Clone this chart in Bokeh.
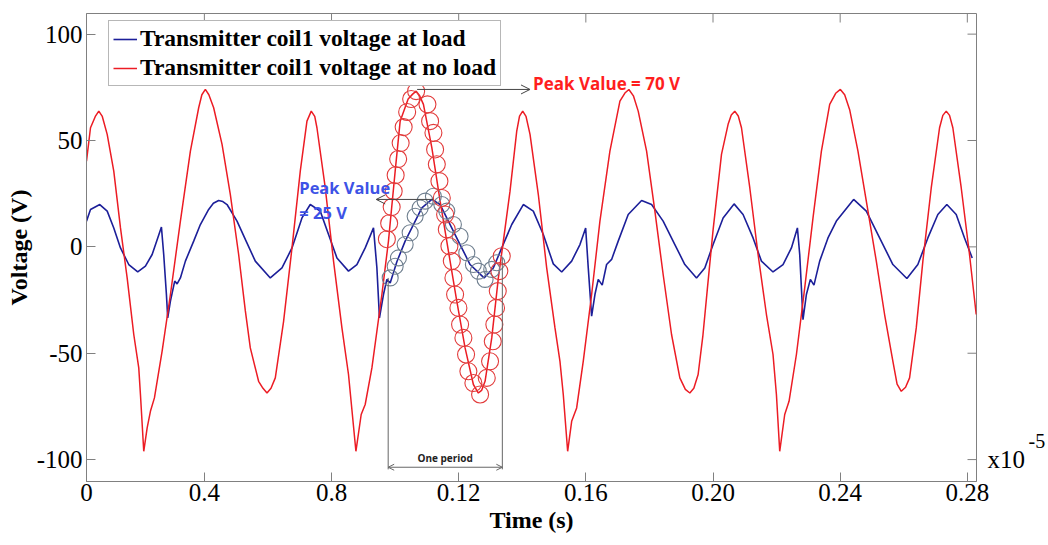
from bokeh.plotting import figure
from bokeh.models import (Range1d, FixedTicker, CustomJSTickFormatter, LinearAxis,
                          Legend, LegendItem, Label, Arrow, OpenHead)
from bokeh.embed import file_html
from bokeh.resources import INLINE

# ---------------- data ----------------
red_t = [0.00292, 0.00418, 0.00569, 0.00679, 0.00789, 0.00943, 0.01150, 0.01361, 0.01571, 0.01779,
         0.01936, 0.01989, 0.02093, 0.02200, 0.02303, 0.02429, 0.02671, 0.02932, 0.03246, 0.03560,
         0.03821, 0.03921, 0.04031, 0.04141, 0.04292, 0.04556, 0.04817, 0.05078, 0.05288, 0.05445,
         0.05706, 0.05844, 0.05970, 0.06096, 0.06231, 0.06492, 0.06756, 0.07017, 0.07227, 0.07362,
         0.07472, 0.07541, 0.07802, 0.08063, 0.08327, 0.08534, 0.08767, 0.08933, 0.09059, 0.09270,
         0.09584, 0.09791, 0.10002, 0.10159, 0.10410, 0.10552, 0.10661, 0.10772, 0.10891, 0.11155,
         0.11416, 0.11677, 0.11940, 0.12201, 0.12462, 0.12619, 0.12720, 0.12830, 0.13040, 0.13248,
         0.13405, 0.13615, 0.13826, 0.13914, 0.14014, 0.14118, 0.14244, 0.14505, 0.14768, 0.15029,
         0.15186, 0.15290, 0.15428, 0.15554, 0.15711, 0.15918, 0.16182, 0.16443, 0.16757, 0.17072,
         0.17229, 0.17354, 0.17496, 0.17647, 0.17911, 0.18172, 0.18432, 0.18696, 0.18957, 0.19130,
         0.19271, 0.19397, 0.19532, 0.19680, 0.19821, 0.20003, 0.20267, 0.20475, 0.20575, 0.20685,
         0.20795, 0.20896, 0.21157, 0.21418, 0.21681, 0.21888, 0.21995, 0.22099, 0.22256, 0.22392,
         0.22624, 0.22885, 0.23146, 0.23410, 0.23671, 0.23859, 0.24007, 0.24142, 0.24299, 0.24560,
         0.24823, 0.25137, 0.25398, 0.25659, 0.25791, 0.25923, 0.26058, 0.26184, 0.26394, 0.26602,
         0.26866, 0.27127, 0.27230, 0.27337, 0.27441, 0.27545, 0.27808, 0.28069, 0.28280]
red_v = [40.3, 56.0, 61.3, 63.8, 61.3, 52.9, 35.6, 8.9, -14.6, -41.2,
         -56.9, -69.4, -96.1, -85.1, -77.3, -71.0, -49.0, -22.4, 12.1, 45.0,
         65.4, 71.5, 74.0, 71.5, 65.4, 48.2, 24.6, -3.6, -30.0, -47.5,
         -63.2, -66.5, -68.7, -66.5, -61.6, -35.0, -0.5, 35.6, 59.1, 63.8,
         61.3, 56.0, 27.8, -6.7, -38.1, -60.0, -96.1, -78.8, -74.1, -56.9,
         -22.4, 2.7, 35.6, 59.1, 69.5, 71.8, 73.2, 71.0, 67.0, 46.6,
         21.5, -2.0, -25.5, -47.5, -64.7, -68.7, -67.5, -63.2, -42.8, -14.6,
         2.7, 26.2, 54.4, 61.5, 63.8, 61.3, 52.9, 24.6, -9.9, -38.1,
         -53.8, -69.4, -96.1, -82.0, -75.7, -53.8, -22.4, 12.1, 45.0, 68.5,
         72.3, 74.0, 71.0, 63.8, 45.0, 16.8, -13.0, -41.2, -61.6, -67.0,
         -68.7, -66.5, -60.0, -42.0, -20.0, 8.0, 43.5, 57.6, 62.0, 63.8,
         61.5, 56.0, 27.8, -3.6, -31.8, -50.6, -69.4, -96.1, -78.8, -72.6,
         -50.6, -19.3, 13.6, 45.0, 67.0, 72.2, 74.0, 71.5, 64.5, 45.0,
         21.5, -6.7, -31.8, -53.8, -64.5, -67.9, -66.0, -61.6, -38.1, -6.7,
         27.8, 56.0, 61.8, 63.8, 61.8, 56.0, 27.8, -3.6, -31.8]

blue_t = [0.00292, 0.00418, 0.00710, 0.00943, 0.01150, 0.01361, 0.01621, 0.01904, 0.02146, 0.02357,
          0.02533, 0.02649, 0.02721, 0.02806, 0.02847, 0.02932, 0.03067, 0.03142, 0.03246, 0.03403,
          0.03664, 0.03874, 0.04135, 0.04283, 0.04449, 0.04581, 0.04713, 0.05027, 0.05288, 0.05602,
          0.06074, 0.06441, 0.06756, 0.07070, 0.07331, 0.07645, 0.07906, 0.08170, 0.08534, 0.08798,
          0.09059, 0.09320, 0.09427, 0.09508, 0.09634, 0.09741, 0.09845, 0.10055, 0.10316, 0.10577,
          0.10841, 0.11155, 0.11416, 0.11730, 0.12044, 0.12358, 0.12798, 0.13090, 0.13354, 0.13669,
          0.14033, 0.14347, 0.14662, 0.14976, 0.15240, 0.15554, 0.15815, 0.15994, 0.16076, 0.16182,
          0.16286, 0.16390, 0.16515, 0.16653, 0.16811, 0.17018, 0.17333, 0.17754, 0.18068, 0.18432,
          0.18800, 0.19114, 0.19482, 0.19742, 0.20003, 0.20318, 0.20663, 0.20946, 0.21260, 0.21524,
          0.21888, 0.22203, 0.22467, 0.22655, 0.22728, 0.22831, 0.22938, 0.23063, 0.23176, 0.23356,
          0.23617, 0.23881, 0.24424, 0.24823, 0.25241, 0.25659, 0.26099, 0.26444, 0.26759, 0.27073,
          0.27356, 0.27651, 0.27912, 0.28154]
blue_v = [12.1, 17.6, 19.9, 16.8, 8.9, -0.5, -8.3, -11.8, -9.1, -3.6,
          4.2, 9.3, -3.6, -22.4, -33.4, -25.5, -16.1, -17.4, -14.6, -6.7,
          2.7, 10.5, 17.6, 20.5, 21.8, 21.3, 19.9, 12.1, 3.5, -6.7,
          -14.6, -9.9, -0.5, 13.6, 19.9, 16.8, 5.8, -5.2, -11.4, -8.3,
          -0.5, 8.9, -9.9, -33.4, -22.4, -15.3, -17.0, -7.0, 2.7, 10.5,
          18.3, 22.3, 19.9, 10.5, 1.1, -8.3, -14.6, -9.9, -0.5, 10.5,
          19.9, 16.8, 5.8, -8.0, -11.8, -6.7, 1.1, 8.9, -9.9, -32.6,
          -22.4, -15.3, -18.0, -8.3, -5.9, 2.7, 15.2, 21.8, 19.9, 12.1,
          1.1, -8.3, -14.6, -9.9, 1.1, 13.6, 20.2, 15.2, 4.2, -6.7,
          -11.8, -8.3, -0.5, 8.9, -3.6, -34.2, -22.4, -15.3, -18.0, -6.7,
          4.2, 12.1, 22.3, 16.8, 4.2, -8.3, -14.9, -8.3, 4.2, 15.2,
          19.9, 15.2, 4.2, -5.2]

circ_red_t = [0.09741, 0.09813, 0.09892, 0.09955, 0.10017, 0.10096, 0.10174, 0.10269, 0.10379, 0.10505,
              0.10661, 0.11017, 0.11101, 0.11205, 0.11258, 0.11312, 0.11394, 0.11469, 0.11573, 0.11626,
              0.11708, 0.11783, 0.11834, 0.11887, 0.11991, 0.12044, 0.12148, 0.12232, 0.12305, 0.12462,
              0.12673, 0.12883, 0.12987, 0.13072, 0.13122, 0.13175, 0.13229, 0.13279, 0.13354]
circ_red_v = [3.6, 11.1, 18.7, 26.2, 33.7, 41.3, 48.8, 56.3, 63.4, 69.5,
              73.2, 67.0, 59.1, 53.6, 45.8, 38.8, 30.9, 23.0, 15.2, 8.2,
              0.3, -6.7, -14.6, -22.4, -28.7, -36.5, -42.8, -50.6, -58.5, -64.0,
              -69.4, -61.6, -53.8, -44.4, -36.5, -28.7, -20.8, -11.4, -4.4]

circ_blue_t = [0.09845, 0.10002, 0.10105, 0.10316, 0.10473, 0.10630, 0.10787, 0.10944, 0.11205, 0.11469,
               0.11626, 0.11834, 0.12044, 0.12255, 0.12462, 0.12619, 0.12830, 0.13040, 0.13197]
circ_blue_v = [-14.6, -9.1, -5.2, 1.1, 6.6, 14.4, 18.3, 21.5, 23.8, 19.9,
               16.8, 10.5, 5.0, -2.8, -8.3, -11.4, -15.3, -10.6, -7.5]

x_tick_vals = [0.00292, 0.04, 0.08, 0.12, 0.16, 0.20, 0.24, 0.28]
x_tick_labels = ["0", "0.4", "0.8", "0.12", "0.16", "0.20", "0.24", "0.28"]
y_tick_vals = [-100, -50, 0, 50, 100]
x_multiplier = ["x10", "-5"]

series_names = ["Transmitter coil1 voltage at load", "Transmitter coil1 voltage at no load"]

# ---------------- figure ----------------
X0, X1 = 0.00292, 0.28289
Y0, Y1 = -110.3, 109.7
p = figure(width=1048, height=545, output_backend="svg", toolbar_location=None,
           x_range=Range1d(X0, X1), y_range=Range1d(Y0, Y1),
           min_border_left=86, min_border_right=71, min_border_top=13, min_border_bottom=64,
           background_fill_color="white", border_fill_color="white")
p.grid.visible = False
p.outline_line_color = "#808080"
p.outline_line_width = 1

AX = "#808080"
SERIF = "Liberation Serif"

xfmt = CustomJSTickFormatter(args=dict(vals=x_tick_vals, labs=x_tick_labels), code="""
for (let i = 0; i < vals.length; i++) { if (Math.abs(tick - vals[i]) < 1e-7) return labs[i]; }
return '';
""")
yfmt = CustomJSTickFormatter(code="return String(Math.round(tick));")


def style_axis(ax):
    ax.axis_line_color = AX
    ax.major_tick_line_color = AX
    ax.major_tick_in = 9
    ax.major_tick_out = 0
    ax.minor_tick_line_color = None
    ax.major_label_text_font = SERIF
    ax.major_label_text_font_size = "25px"
    ax.major_label_text_color = "black"
    ax.axis_label_text_font = SERIF
    ax.axis_label_text_font_style = "bold"
    ax.axis_label_text_font_size = "24px"
    ax.axis_label_text_color = "black"


xa = p.xaxis[0]
xa.ticker = FixedTicker(ticks=x_tick_vals)
xa.formatter = xfmt
xa.axis_label = "Time (s)"
style_axis(xa)
xa.major_label_standoff = 2
xa.axis_label_standoff = 3

ya = p.yaxis[0]
ya.ticker = FixedTicker(ticks=y_tick_vals)
ya.formatter = yfmt
ya.axis_label = "Voltage (V)"
style_axis(ya)
ya.major_label_standoff = 4
ya.axis_label_standoff = 2

# "x10^-5" multiplier shown right of the box, as two label-only axes
def text_axis(tick, text, size, standoff):
    ax = LinearAxis(ticker=FixedTicker(ticks=[tick]),
                    formatter=CustomJSTickFormatter(args=dict(t=text), code="return t;"))
    ax.axis_line_color = None
    ax.major_tick_line_color = None
    ax.minor_tick_line_color = None
    ax.major_tick_in = 0
    ax.major_tick_out = 0
    ax.major_label_standoff = standoff
    ax.major_label_text_font = SERIF
    ax.major_label_text_font_size = size
    ax.major_label_text_color = "black"
    return ax

p.add_layout(text_axis(-100, x_multiplier[0], "25px", 11), "right")
p.add_layout(text_axis(-91.4, x_multiplier[1], "20px", 0), "right")

# inward ticks on the top and right edges of the box (MATLAB style)
TICK_PX = 9
dy = TICK_PX * (Y1 - Y0) / 468.0
dx = TICK_PX * (X1 - X0) / 891.0
top_x = x_tick_vals[1:]
p.segment(x0=top_x, y0=[Y1] * len(top_x), x1=top_x, y1=[Y1 - dy] * len(top_x),
          line_color=AX, line_width=1)
p.segment(x0=[X1] * len(y_tick_vals), y0=y_tick_vals, x1=[X1 - dx] * len(y_tick_vals),
          y1=y_tick_vals, line_color=AX, line_width=1)

BLUE = "#1c1f99"
RED = "#ec1c24"

rb = p.line(blue_t, blue_v, line_color=BLUE, line_width=1.6)
rr = p.line(red_t, red_v, line_color=RED, line_width=1.5)

p.scatter(circ_blue_t, circ_blue_v, marker="circle", size=16, fill_color=None,
          line_color="#6f7f8f", line_width=1.1)
p.scatter(circ_red_t, circ_red_v, marker="circle", size=17, fill_color=None,
          line_color="#e23b3b", line_width=1.1)

legend = Legend(items=[LegendItem(label=series_names[0], renderers=[rb]),
                       LegendItem(label=series_names[1], renderers=[rr])],
                location=(22, 395))
legend.border_line_color = "#707070"
legend.border_line_width = 1
legend.background_fill_color = "white"
legend.background_fill_alpha = 1
legend.label_text_font = SERIF
legend.label_text_font_style = "bold"
legend.label_text_font_size = "23.5px"
legend.label_text_color = "black"
legend.glyph_width = 24
legend.glyph_height = 26
legend.label_height = 26
legend.label_standoff = 3
legend.padding = 4
legend.spacing = 2
legend.margin = 0
p.add_layout(legend)

# ---------------- annotations ----------------
ARR = "#444444"
p.add_layout(Arrow(end=OpenHead(size=9, line_color=ARR, line_width=1),
                   x_start=0.10693, y_start=74.0, x_end=0.14244, y_end=74.0,
                   line_color=ARR, line_width=1))
p.add_layout(Arrow(end=OpenHead(size=9, line_color=ARR, line_width=1),
                   x_start=0.11196, y_start=22.3, x_end=0.09405, y_end=22.3,
                   line_color=ARR, line_width=1))

PR = "#ff1e1e"
PB = "#3d52e6"
SANS = "Open Sans"
p.add_layout(Label(x=0.14338, y=77.0, text="Peak Value = 70 V", text_font=SANS,
                   text_font_style="bold", text_font_size="17px", text_color=PR,
                   text_baseline="middle"))
p.add_layout(Label(x=0.06985, y=28.1, text="Peak Value", text_font=SANS,
                   text_font_style="bold", text_font_size="16.5px", text_color=PB,
                   text_baseline="middle"))
p.add_layout(Label(x=0.06985, y=16.3, text="= 25 V", text_font=SANS,
                   text_font_style="bold", text_font_size="16.5px", text_color=PB,
                   text_baseline="middle"))

BOX = "#666666"
p.add_layout(Arrow(end=None, x_start=0.09782, y_start=-14.6, x_end=0.09782, y_end=-104.6,
                   line_color=BOX, line_width=1))
p.add_layout(Arrow(end=None, x_start=0.13373, y_start=-5.2, x_end=0.13373, y_end=-104.6,
                   line_color=BOX, line_width=1))
p.add_layout(Arrow(start=OpenHead(size=6, line_color=BOX, line_width=1),
                   end=OpenHead(size=6, line_color=BOX, line_width=1),
                   x_start=0.09782, y_start=-103.6, x_end=0.13373, y_end=-103.6,
                   line_color=BOX, line_width=1))
p.add_layout(Label(x=0.11573, y=-99.4, text="One period", text_font=SANS,
                   text_font_style="bold", text_font_size="10px", text_color="#222222",
                   text_align="center", text_baseline="middle"))

open("out.html", "w").write(file_html(p, INLINE))
